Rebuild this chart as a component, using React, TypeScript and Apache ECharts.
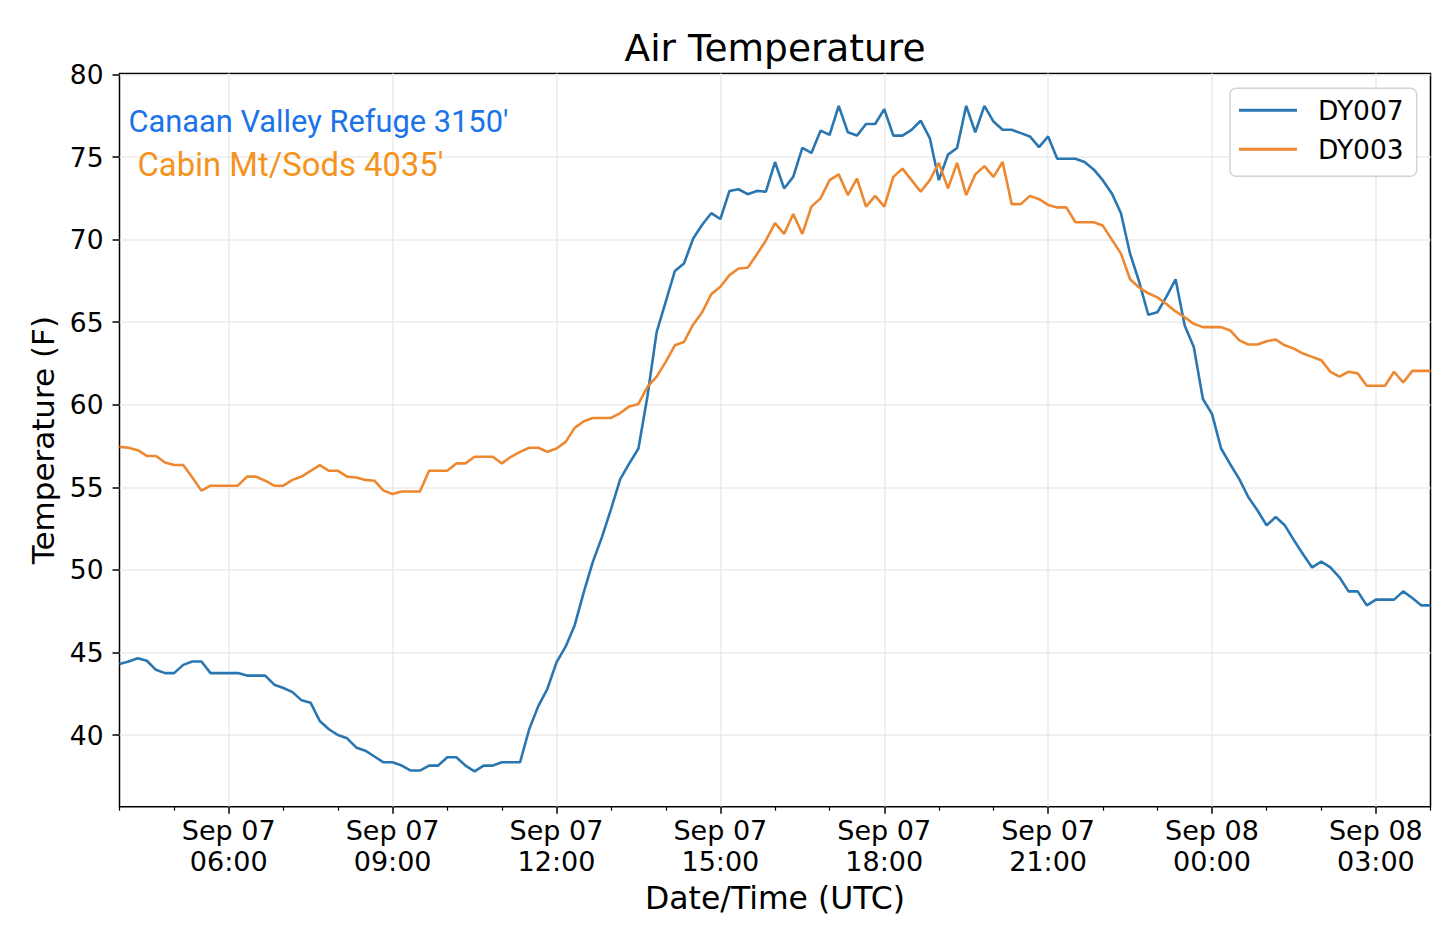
import { useRef, useEffect } from "react";
import * as echarts from "echarts";
import type { EChartsOption } from "echarts";

// 10-minute readings, Sep 07 04:00 UTC -> Sep 08 04:00 UTC
const START_HOUR = 4;
const STEP_HOURS = 1 / 6;

const dy007: number[] = [
  44.3, 44.45, 44.65, 44.5, 43.95, 43.75, 43.75, 44.25, 44.45, 44.45,
  43.75, 43.75, 43.75, 43.75, 43.6, 43.6, 43.6, 43.05, 42.85, 42.6,
  42.1, 41.95, 40.85, 40.35, 40.0, 39.8, 39.25, 39.05, 38.7, 38.35,
  38.35, 38.15, 37.85, 37.85, 38.15, 38.15, 38.65, 38.65, 38.15, 37.8,
  38.15, 38.15, 38.35, 38.35, 38.35, 40.35, 41.75, 42.8, 44.4, 45.35,
  46.65, 48.65, 50.5, 52.0, 53.7, 55.5, 56.45, 57.35, 60.55, 64.4,
  66.25, 68.1, 68.55, 70.05, 70.9, 71.6, 71.25, 72.95, 73.05, 72.75,
  72.95, 72.9, 74.7, 73.1, 73.8, 75.55, 75.25, 76.6, 76.35, 78.1,
  76.5, 76.3, 77.0, 77.0, 77.9, 76.3, 76.3, 76.65, 77.2, 76.15,
  73.6, 75.15, 75.55, 78.1, 76.5, 78.1, 77.15, 76.65, 76.65, 76.45,
  76.25, 75.6, 76.25, 74.9, 74.9, 74.9, 74.7, 74.25, 73.6, 72.8,
  71.6, 69.15, 67.45, 65.45, 65.6, 66.55, 67.6, 64.8, 63.5, 60.35,
  59.45, 57.35, 56.4, 55.5, 54.4, 53.6, 52.7, 53.2, 52.7, 51.8,
  50.95, 50.15, 50.5, 50.15, 49.55, 48.7, 48.7, 47.85, 48.2, 48.2,
  48.2, 48.7, 48.3, 47.85, 47.85,
];

const dy003: number[] = [
  57.45, 57.4, 57.25, 56.9, 56.9, 56.5, 56.35, 56.35, 55.6, 54.8,
  55.1, 55.1, 55.1, 55.1, 55.65, 55.65, 55.4, 55.1, 55.1, 55.45,
  55.65, 56.0, 56.35, 56.0, 56.0, 55.65, 55.6, 55.45, 55.4, 54.8,
  54.6, 54.75, 54.75, 54.75, 56.0, 56.0, 56.0, 56.45, 56.45, 56.85,
  56.85, 56.85, 56.45, 56.85, 57.15, 57.4, 57.4, 57.15, 57.35, 57.75,
  58.6, 59.0, 59.2, 59.2, 59.2, 59.5, 59.9, 60.05, 61.1, 61.7,
  62.6, 63.6, 63.8, 64.85, 65.6, 66.7, 67.15, 67.85, 68.25, 68.3,
  69.1, 69.95, 71.0, 70.35, 71.55, 70.35, 72.0, 72.5, 73.6, 73.95,
  72.7, 73.7, 72.0, 72.65, 72.0, 73.8, 74.3, 73.6, 72.9, 73.6,
  74.65, 73.1, 74.65, 72.7, 73.95, 74.45, 73.8, 74.7, 72.15, 72.15,
  72.65, 72.45, 72.1, 71.95, 71.95, 71.05, 71.05, 71.05, 70.85, 70.0,
  69.15, 67.6, 67.1, 66.75, 66.5, 66.1, 65.65, 65.3, 64.9, 64.7,
  64.7, 64.7, 64.5, 63.9, 63.65, 63.65, 63.85, 63.95, 63.6, 63.4,
  63.1, 62.9, 62.7, 62.0, 61.7, 62.0, 61.9, 61.15, 61.15, 61.15,
  62.0, 61.35, 62.05, 62.05, 62.05,
];

// hours since Sep 07 00:00 UTC
const majorTicks = [6, 9, 12, 15, 18, 21, 24, 27];
const minorTicks = [4, 5, 7, 8, 10, 11, 13, 14, 16, 17, 19, 20, 22, 23, 25, 26, 28];

const FONT = '"DejaVu Sans", sans-serif';

export default function App() {
  const chartRef = useRef<HTMLDivElement>(null);

  useEffect(() => {
    if (!chartRef.current) return;
    const chart = echarts.init(chartRef.current, null, { renderer: "svg" });

    const toPoints = (vals: number[]) =>
      vals.map((v, i) => [START_HOUR + i * STEP_HOURS, v]);

    const formatHour = (v: number): string => {
      const h = Math.round(v);
      const day = h >= 24 ? "08" : "07";
      return `Sep ${day}\n${String(h % 24).padStart(2, "0")}:00`;
    };

    const option: EChartsOption = {
      animation: false,
      backgroundColor: "#fff",
      textStyle: { fontFamily: FONT },
      grid: {
        left: 119.5,
        right: 9.5,
        top: 73.5,
        bottom: 123.3,
        show: true,
        borderColor: "#000",
        borderWidth: 1.5,
      },
      graphic: [
        {
          type: "text",
          x: 775,
          y: 48,
          style: {
            text: "Air Temperature",
            fontSize: 37.5,
            fontFamily: FONT,
            fill: "#000",
            align: "center",
            verticalAlign: "middle",
          },
        },
        {
          type: "text",
          x: 128.5,
          y: 121,
          z: 10,
          style: {
            text: "Canaan Valley Refuge 3150'",
            fontSize: 30.8,
            fontFamily: "Roboto, sans-serif",
            fill: "#1a73e8",
            align: "left",
            verticalAlign: "middle",
          },
        },
        {
          type: "text",
          x: 137.5,
          y: 165,
          z: 10,
          style: {
            text: "Cabin Mt/Sods 4035'",
            fontSize: 32.8,
            fontFamily: "Roboto, sans-serif",
            fill: "#f4931e",
            align: "left",
            verticalAlign: "middle",
          },
        },
      ],
      legend: {
        orient: "vertical",
        top: 88.3,
        right: 23.3,
        data: ["DY007", "DY003"],
        icon: "rect",
        backgroundColor: "#fff",
        borderColor: "#d4d4d4",
        borderWidth: 1.5,
        borderRadius: 6,
        padding: [7, 13, 12, 9],
        itemWidth: 58,
        itemHeight: 3,
        itemGap: 9,
        textStyle: {
          fontFamily: FONT,
          fontSize: 26.5,
          lineHeight: 30,
          color: "#000",
          padding: [0, 0, 0, 16],
        },
      },
      xAxis: [
        {
          type: "value",
          min: 4,
          max: 28,
          position: "bottom",
          axisLine: { show: false },
          axisTick: {
            show: true,
            customValues: majorTicks,
            length: 7,
            lineStyle: { color: "#000", width: 1.5 },
          },
          axisLabel: {
            customValues: majorTicks,
            formatter: (v: number) => formatHour(v),
            fontFamily: FONT,
            fontSize: 27,
            lineHeight: 31,
            color: "#000",
            margin: 8,
          },
          splitLine: {
            show: true,
            lineStyle: { color: "#ebebeb", width: 1.5 },
          },
          name: "Date/Time (UTC)",
          nameLocation: "middle",
          nameGap: 74,
          nameTextStyle: { fontFamily: FONT, fontSize: 31.5, color: "#000" },
        },
        {
          type: "value",
          min: 4,
          max: 28,
          position: "bottom",
          gridIndex: 0,
          axisLine: { show: false },
          axisTick: {
            show: true,
            customValues: minorTicks,
            length: 4,
            lineStyle: { color: "#000", width: 1.2 },
          },
          axisLabel: { show: false },
          splitLine: { show: false },
        },
      ],
      yAxis: {
        type: "value",
        min: 35.66,
        max: 80.06,
        minInterval: 5,
        maxInterval: 5,
        splitNumber: 9,
        axisLine: { show: false },
        axisTick: {
          show: true,
          length: 7,
          lineStyle: { color: "#000", width: 1.5 },
        },
        axisLabel: {
          fontFamily: FONT,
          fontSize: 26.5,
          color: "#000",
          margin: 16,
          showMinLabel: false,
          showMaxLabel: false,
          formatter: (v: number) => String(Math.round(v)),
        },
        splitLine: {
          show: true,
          showMinLine: false,
          showMaxLine: false,
          lineStyle: { color: "#ebebeb", width: 1.5 },
        },
        name: "Temperature (F)",
        nameLocation: "middle",
        nameGap: 60,
        nameTextStyle: { fontFamily: FONT, fontSize: 31, color: "#000" },
      },
      series: [
        {
          name: "DY007",
          type: "line",
          data: toPoints(dy007),
          symbol: "none",
          lineStyle: { color: "#2a76b1", width: 2.6 },
          itemStyle: { color: "#2a76b1" },
        },
        {
          name: "DY003",
          type: "line",
          data: toPoints(dy003),
          symbol: "none",
          lineStyle: { color: "#ee8830", width: 2.6 },
          itemStyle: { color: "#ee8830" },
        },
      ],
    };

    chart.setOption(option);

    return () => {
      chart.dispose();
    };
  }, []);

  return (
    <div
      ref={chartRef}
      style={{ position: "absolute", left: 0, top: 0, width: 1440, height: 930 }}
    />
  );
}
